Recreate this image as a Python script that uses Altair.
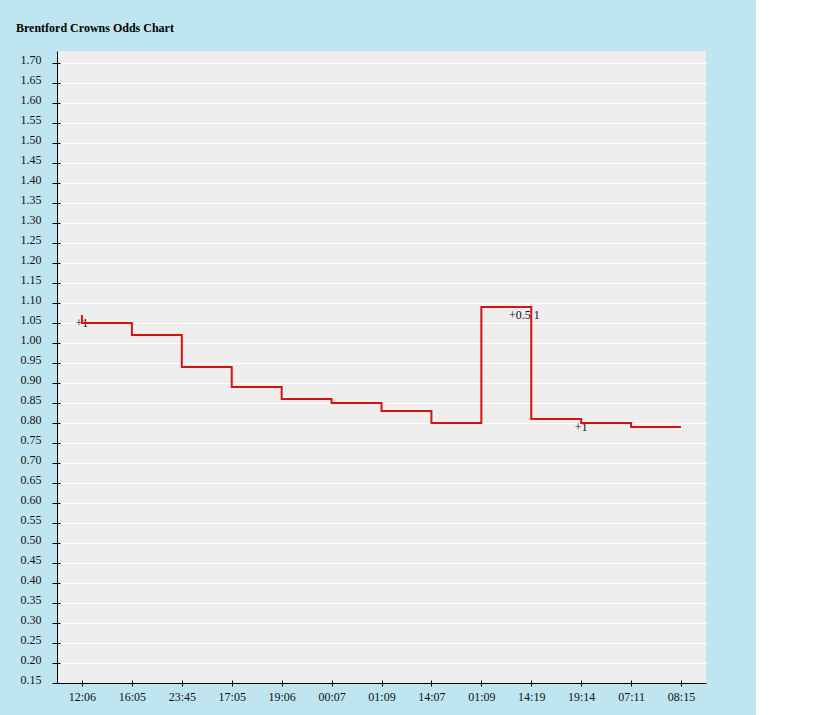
import json
import altair as alt
import pandas as pd

# ---- data ----
time_labels = ["12:06", "16:05", "23:45", "17:05", "19:06", "00:07", "01:09",
               "14:07", "01:09", "14:19", "19:14", "07:11", "08:15"]
step_pos = [0, 0, 1, 2, 3, 4, 5, 6, 7, 8, 9, 10, 11, 12]
step_odds = [1.07, 1.05, 1.02, 0.94, 0.89, 0.86, 0.85, 0.83, 0.80, 1.09, 0.81, 0.80, 0.79, 0.79]

note_pos = [0, 8.86, 10]
note_odds = [1.05, 1.07, 0.79]
note_text = ["+1", "+0.5 1", "+1"]

y_ticks = [round(0.15 + 0.05 * i, 2) for i in range(32)]

line_df = pd.DataFrame({"seq": list(range(len(step_pos))), "pos": step_pos, "odds": step_odds})
note_df = pd.DataFrame({"pos": note_pos, "odds": note_odds, "label": note_text})

FONT = "Liberation Serif"
label_expr = json.dumps(time_labels) + "[datum.value]"

x_scale = alt.Scale(domain=[-0.5, 12.5], nice=False, zero=False)
y_scale = alt.Scale(domain=[0.15, 1.73], nice=False, zero=False)

main_x_axis = alt.Axis(orient="bottom", values=list(range(13)), labelExpr=label_expr,
                       title=None, grid=False, tickSize=3, tickColor="black",
                       domainColor="black", labelFont=FONT, labelFontSize=12,
                       labelColor="#111", labelPadding=5)
main_y_axis = alt.Axis(orient="left", values=y_ticks, format=".2f", title=None,
                       grid=True, gridColor="white", gridWidth=1, tickSize=5,
                       tickColor="black", domainColor="black", labelFont=FONT,
                       labelFontSize=12, labelColor="#111", labelPadding=11,
                       labelOffset=-4)
# inner halves of the crossing tick marks
inner_x_axis = alt.Axis(orient="bottom", values=list(range(13)), labels=False,
                        domain=False, grid=False, title=None, tickSize=3,
                        tickColor="black", offset=-3)
inner_y_axis = alt.Axis(orient="left", values=y_ticks, labels=False, domain=False,
                        grid=False, title=None, tickSize=3, tickColor="black", offset=-3)

notes = alt.Chart(note_df).mark_text(font=FONT, fontSize=12, color="#111",
                                     align="center", baseline="middle").encode(
    x=alt.X("pos:Q", scale=x_scale, axis=inner_x_axis),
    y=alt.Y("odds:Q", scale=y_scale, axis=inner_y_axis),
    text="label:N",
)

line = alt.Chart(line_df).mark_line(interpolate="step-after", color="#d41414",
                                    strokeWidth=2).encode(
    x=alt.X("pos:Q", scale=x_scale, axis=main_x_axis),
    y=alt.Y("odds:Q", scale=y_scale, axis=main_y_axis),
    order="seq:Q",
)

chart = alt.layer(notes, line).resolve_axis(x="independent", y="independent").properties(
    width=649,
    height=632,
    padding={"left": 57, "top": 51, "right": 50, "bottom": 32},
    autosize=alt.AutoSizeParams(type="none"),
    background="#bfe6f0",
    title=alt.TitleParams("Brentford Crowns Odds Chart", anchor="start", frame="group",
                          font=FONT, fontSize=12, fontWeight="bold", color="#000",
                          dx=-41, offset=7, baseline="alphabetic"),
).configure_view(fill="#eeeeee", stroke=None)

chart.save("out.html", embed_options={"renderer": "svg", "actions": False})
